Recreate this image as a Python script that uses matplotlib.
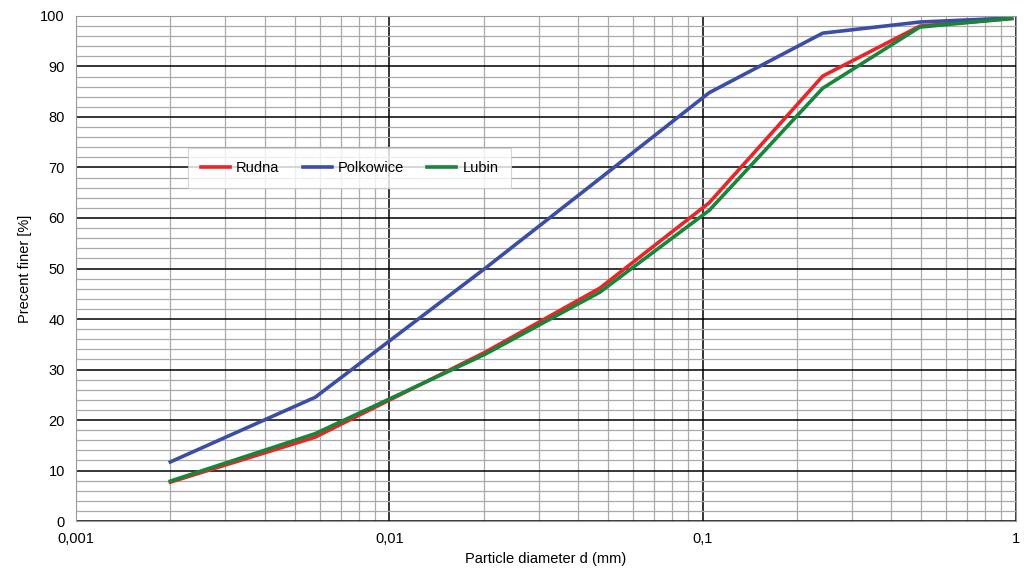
import matplotlib
matplotlib.use('Agg')
import matplotlib.pyplot as plt
from matplotlib.ticker import FixedLocator, LogLocator, NullFormatter, MultipleLocator

plt.rcParams['font.family'] = ['Liberation Sans', 'DejaVu Sans']

# Dane
diametro = [0.002, 0.0058, 0.0202, 0.047, 0.105, 0.242, 0.494, 0.97]
rudna = [7.7, 16.6, 33.4, 46.1, 63.0, 88.1, 98.0, 99.5]
polkowice = [11.7, 24.5, 50.0, 67.8, 84.8, 96.6, 98.8, 99.6]
lubin = [7.9, 17.3, 33.0, 45.3, 61.5, 85.7, 97.8, 99.5]

xticks = [0.001, 0.01, 0.1, 1]
xlabels = ['0,001', '0,01', '0,1', '1']

fig = plt.figure(figsize=(10.26, 5.83), dpi=100)
ax = fig.add_axes([0.0741, 0.1063, 0.9159, 0.8663])

ax.plot(diametro, rudna, color='#e8262a', lw=2.6, label='Rudna')
ax.plot(diametro, polkowice, color='#3b4ea6', lw=2.6, label='Polkowice')
ax.plot(diametro, lubin, color='#17853a', lw=2.6, label='Lubin')

ax.set_xscale('log')
ax.set_xlim(0.001, 1)
ax.set_ylim(0, 100)
ax.xaxis.set_major_locator(FixedLocator(xticks))
ax.set_xticklabels(xlabels)
ax.xaxis.set_minor_locator(LogLocator(base=10, subs=range(2, 10)))
ax.xaxis.set_minor_formatter(NullFormatter())
ax.yaxis.set_major_locator(MultipleLocator(10))
ax.yaxis.set_minor_locator(MultipleLocator(2))

ax.grid(True, which='major', color='black', lw=1.1, zorder=0)
ax.grid(True, which='minor', color='#aaaaaa', lw=0.9, zorder=0)
ax.set_axisbelow(True)

for s in ax.spines.values():
    s.set_color('#999999')
ax.tick_params(which='both', length=0, labelsize=10.5, pad=8)

ax.set_xlabel('Particle diameter d (mm)', fontsize=10.5, labelpad=4)
ax.set_ylabel('Precent finer [%]', fontsize=10.5, labelpad=6)

leg = ax.legend(loc='upper left', bbox_to_anchor=(0.119, 0.739), ncol=3,
                frameon=True, fancybox=False, fontsize=10.5, handlelength=2.0,
                handletextpad=0.4, columnspacing=1.6, borderpad=0.9,
                borderaxespad=0, edgecolor='#cccccc')
leg.get_frame().set_linewidth(0.8)

plt.savefig('out.png', dpi=100)
